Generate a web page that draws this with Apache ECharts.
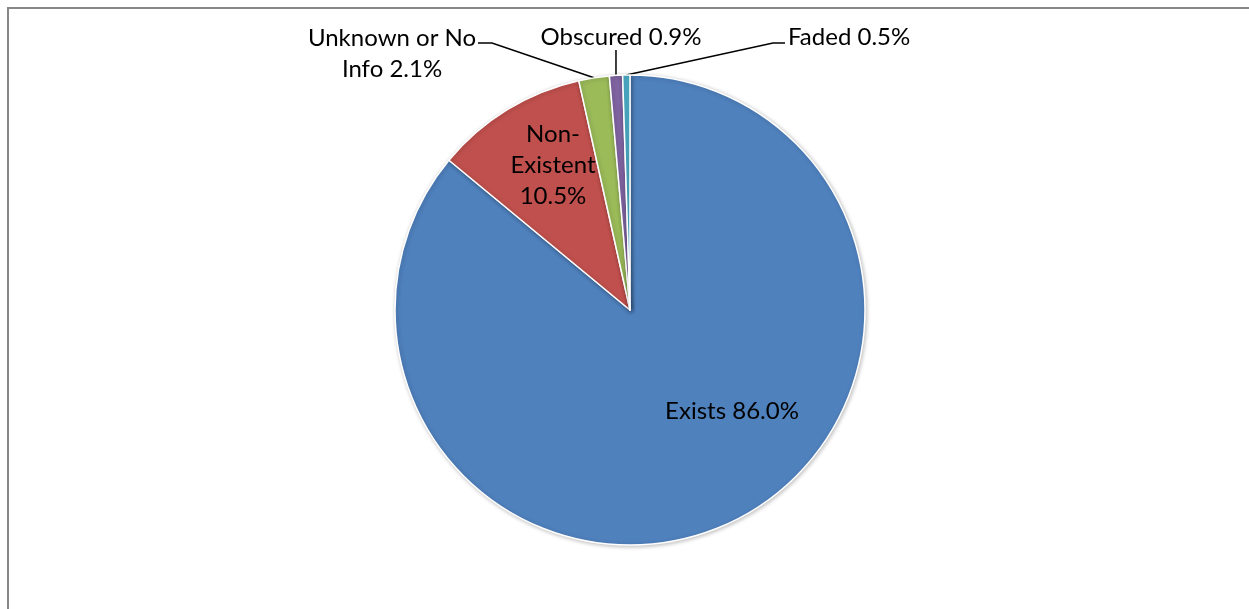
<!DOCTYPE html>
<html><head><meta charset="utf-8">
<script src="https://cdn.jsdelivr.net/npm/echarts@6/dist/echarts.min.js"></script>
<style>
html,body{margin:0;padding:0;background:#fff;overflow:hidden;width:1249px;height:609px}
#frame{position:absolute;left:7px;top:7px;width:1270px;height:640px;border-left:2px solid #878787;border-top:2px solid #878787;box-sizing:border-box}
#chart{position:absolute;left:0;top:0;width:1249px;height:609px}
</style></head><body>
<div id="frame"></div><div id="chart"></div>
<script>
// Data
const categories = ['Exists', 'Non-Existent', 'Unknown or No Info', 'Obscured', 'Faded'];
const labelPrefixes = ['Exists ', 'Non-\nExistent\n', 'Unknown or No\nInfo ', 'Obscured ', 'Faded '];
const values = [86.0, 10.5, 2.1, 0.9, 0.5];
const colors = ['#4F81BD', '#C0504D', '#9BBB59', '#8064A2', '#4BACC6'];

// Label placement (styling only)
const labelPlaces = [
  {x: 732, y: 411, align: 'center'},
  {x: 553, y: 165, align: 'center'},
  {x: 392, y: 54, align: 'center', line: [[492, 43], [478, 43]]},
  {x: 621, y: 37, align: 'center', line: [[616, 50]], vertical: true},
  {x: 788, y: 37, align: 'left', line: [[773, 43], [785, 43]]}
];
const insideIdx = [0, 1];

const chart = echarts.init(document.getElementById('chart'), null, {renderer: 'canvas'});
const data = categories.map((c, i) => {
  const inside = insideIdx.indexOf(i) >= 0;
  return {
    name: c,
    value: values[i],
    itemStyle: {color: colors[i]},
    label: {position: inside ? 'inside' : 'outside'},
    labelLine: {show: !inside}
  };
});

chart.setOption({
  animation: false,
  backgroundColor: 'transparent',
  series: [{
    type: 'pie',
    center: [630, 310],
    radius: [0, 235],
    startAngle: 90,
    clockwise: true,
    avoidLabelOverlap: false,
    data: data,
    itemStyle: {
      borderColor: '#ffffff',
      borderWidth: 1.5,
      shadowBlur: 4,
      shadowColor: 'rgba(0,0,0,0.25)',
      shadowOffsetX: 1,
      shadowOffsetY: 1
    },
    emphasis: {disabled: true},
    label: {
      show: true,
      color: '#000',
      fontFamily: 'Lato',
      fontSize: 24,
      lineHeight: 31,
      formatter: p => labelPrefixes[p.dataIndex] + p.value.toFixed(1) + '%'
    },
    labelLine: {
      show: true,
      length: 10,
      length2: 10,
      lineStyle: {color: '#000', width: 1.5}
    },
    labelLayout: function (p) {
      const L = labelPlaces[p.dataIndex];
      const out = {x: L.x, y: L.y, align: L.align, verticalAlign: 'middle'};
      if (L.line && p.labelLinePoints) {
        const a = p.labelLinePoints[0];
        let pts;
        if (L.vertical) pts = [[a[0], a[1]], [a[0], L.line[0][1]]];
        else pts = [[a[0], a[1]]].concat(L.line);
        out.labelLinePoints = pts;
      }
      return out;
    }
  }]
});
</script>
</body></html>
